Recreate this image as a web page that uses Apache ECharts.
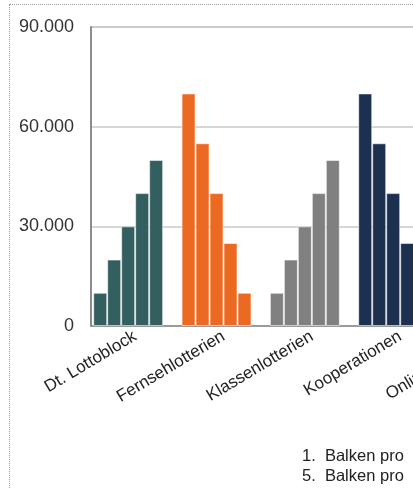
<!DOCTYPE html>
<html>
<head>
<meta charset="utf-8">
<script src="https://cdn.jsdelivr.net/npm/echarts@6/dist/echarts.min.js"></script>
<style>
html, body { margin: 0; padding: 0; width: 413px; height: 488px; overflow: hidden; background: #fff; }
#frame {
    position: absolute;
    left: 9px;
    top: 4px;
    width: 640px;
    height: 540px;
    border: 1px dotted #9a9a9a;
}
#main { width: 640px; height: 540px; }
</style>
</head>
<body>
<div id="frame"><div id="main"></div></div>
<script>
// Kategorien (Lotterie-Anbieter)
var categories = ['Dt. Lottoblock', 'Fernsehlotterien', 'Klassenlotterien', 'Kooperationen', 'Online-Anbieter'];
var catColors = ['#345f60', '#eb6920', '#808080', '#1c3050', '#a5a5a5'];

// 1. bis 5. Balken pro Kategorie
var seriesNames = ['1. Balken', '2. Balken', '3. Balken', '4. Balken', '5. Balken'];
var bar1 = [10000, 70000, 10000, 70000, 10000];
var bar2 = [20000, 55000, 20000, 55000, 20000];
var bar3 = [30000, 40000, 30000, 40000, 30000];
var bar4 = [40000, 25000, 40000, 25000, 40000];
var bar5 = [50000, 10000, 50000, 10000, 50000];

var yTicks = [0, 30000, 60000, 90000];
var footnote = ['1.  Balken pro', '5.  Balken pro'];

function fmt(v) {
    return String(v).replace(/\B(?=(\d{3})+(?!\d))/g, '.');
}

var font = 'Liberation Sans, Arial, sans-serif';
var allBars = [bar1, bar2, bar3, bar4, bar5];

var series = allBars.map(function (vals, i) {
    return {
        name: seriesNames[i],
        type: 'bar',
        data: vals,
        barGap: '0%',
        barCategoryGap: '5%',
        itemStyle: {
            color: function (p) { return catColors[p.dataIndex]; },
            borderColor: 'rgba(255,255,255,0.55)',
            borderWidth: 1
        }
    };
});
// leerer Platz rechts neben der Gruppe
series.push({
    name: 'leer',
    type: 'bar',
    data: categories.map(function () { return null; }),
    barGap: '0%',
    barCategoryGap: '5%'
});

var chart = echarts.init(document.getElementById('main'));
chart.setOption({
    animation: false,
    textStyle: { fontFamily: font },
    title: {
        text: footnote.join('\n'),
        left: 287,
        top: 436,
        textStyle: { fontSize: 16.5, fontWeight: 'normal', color: '#222', lineHeight: 20, fontFamily: font }
    },
    grid: {
        left: 81,
        top: 22,
        width: 441.7,
        height: 299,
        show: true,
        borderColor: '#a0a0a0',
        borderWidth: 1,
        containLabel: false
    },
    xAxis: {
        type: 'category',
        data: categories,
        axisLine: { lineStyle: { color: '#8c8c8c', width: 1.5 } },
        axisTick: { show: false },
        axisLabel: {
            interval: 0,
            rotate: 31,
            margin: 9,
            fontSize: 17,
            color: '#222',
            fontFamily: font
        }
    },
    yAxis: {
        type: 'value',
        min: 0,
        max: 90000,
        interval: 30000,
        axisLine: { show: true, lineStyle: { color: '#8c8c8c', width: 2 } },
        axisTick: { show: false },
        splitLine: { lineStyle: { color: '#c8c8c8', width: 1.5 } },
        axisLabel: {
            margin: 17,
            fontSize: 18,
            color: '#333',
            fontFamily: font,
            formatter: function (v) { return yTicks.indexOf(v) >= 0 ? fmt(v) : ''; }
        }
    },
    series: series
});
</script>
</body>
</html>
